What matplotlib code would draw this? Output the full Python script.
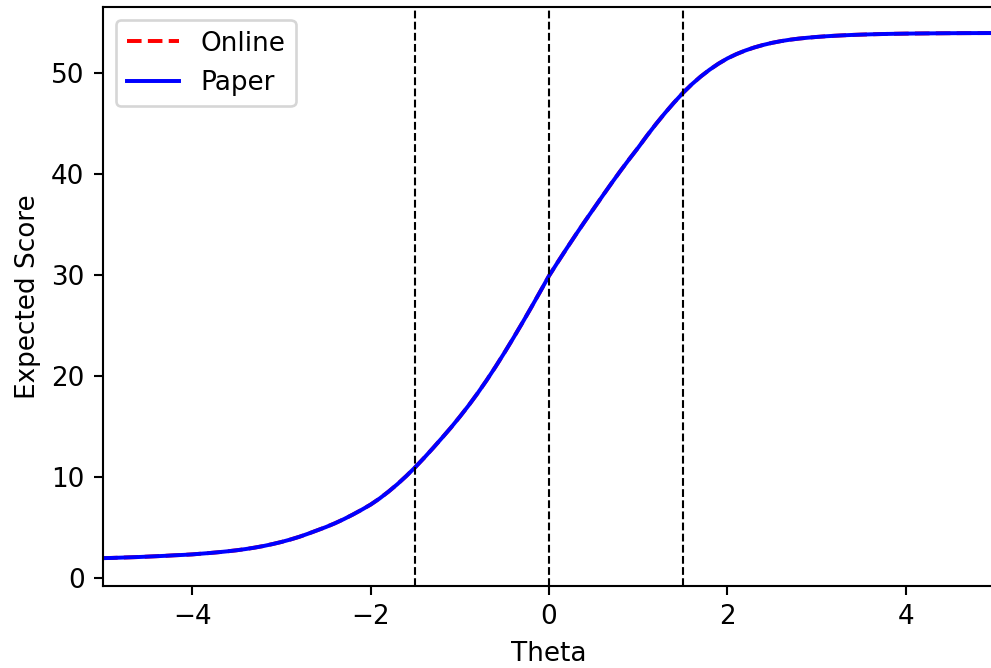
import matplotlib
matplotlib.use("Agg")
import matplotlib.pyplot as plt
import numpy as np

# theta grid (x positions), step 0.1 from -5 to 5
theta = np.linspace(-5.0, 5.0, 101)

# expected score
online_score = [2.00, 2.02, 2.05, 2.08, 2.11, 2.15, 2.19, 2.23, 2.28, 2.32,
                2.37, 2.44, 2.51, 2.59, 2.68, 2.78, 2.90, 3.04, 3.20, 3.39,
                3.60, 3.84, 4.11, 4.42, 4.75, 5.08, 5.45, 5.86, 6.31, 6.79,
                7.30, 7.90, 8.58, 9.32, 10.13, 11.00, 11.93, 12.90, 13.90, 14.92,
                16.00, 17.13, 18.33, 19.60, 20.94, 22.34, 23.79, 25.28, 26.81, 28.37,
                29.95, 31.33, 32.69, 34.02, 35.32, 36.59, 37.86, 39.11, 40.33, 41.51,
                42.65, 43.85, 44.99, 46.07, 47.09, 48.05, 48.91, 49.68, 50.36, 50.96,
                51.48, 51.90, 52.26, 52.56, 52.81, 53.02, 53.19, 53.33, 53.44, 53.53,
                53.605, 53.668, 53.721, 53.766, 53.804, 53.836, 53.863, 53.886, 53.905, 53.921,
                53.934, 53.945, 53.954, 53.962, 53.969, 53.975, 53.98, 53.984, 53.987, 53.99,
                53.992]
paper_score = list(online_score)
cut_points = [-1.5, 0.0, 1.5]

DPI = 189
fig = plt.figure(figsize=(991 / DPI, 668 / DPI), dpi=DPI)
ax = fig.add_axes([103 / 991, (668 - 585.7) / 668, 892 / 991, (585.7 - 7) / 668])

ax.plot(theta, online_score, color="red", linestyle="--", label="Online")
ax.plot(theta, paper_score, color="blue", linestyle="-", label="Paper")
for c in cut_points:
    ax.axvline(c, color="black", linestyle="--", linewidth=0.8)

ax.set_xlim(-5, 5)
ax.set_ylim(-0.73, 56.57)
ax.set_xlabel("Theta")
ax.set_ylabel("Expected Score")
ax.legend(loc="upper left")

fig.savefig("out.png", dpi=DPI)
